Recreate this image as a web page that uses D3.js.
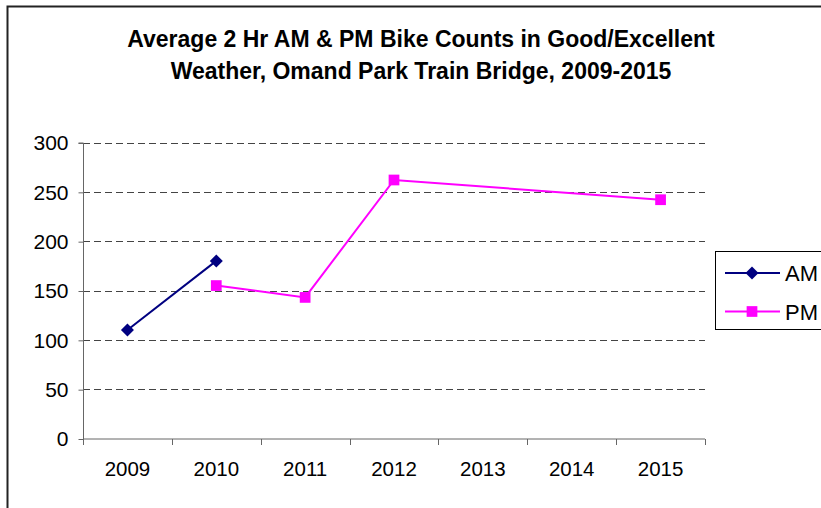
<!DOCTYPE html>
<html><head><meta charset="utf-8">
<script src="https://cdn.jsdelivr.net/npm/d3@7"></script>
<style>body{margin:0;background:#fff}svg{display:block;font-family:"Liberation Sans",Arial,sans-serif}</style>
</head><body><svg id="c" width="821" height="508"></svg>
<script>
const categories = ["2009","2010","2011","2012","2013","2014","2015"];
const amValues = [110, 180, null, null, null, null, null];
const pmValues = [null, 155, 143, 262, null, null, 242];
const yTicks = [0, 50, 100, 150, 200, 250, 300];
const titleLines = ["Average 2 Hr AM & PM Bike Counts in Good/Excellent", "Weather, Omand Park Train Bridge, 2009-2015"];
const seriesNames = ["AM", "PM"];

const svg = d3.select("#c");
const m = {left: 83, right: 705, top: 142.5, bottom: 438.5};

// outer border
svg.append("rect").attr("x", 7.5).attr("y", 6.5).attr("width", 830).attr("height", 520)
  .attr("fill", "none").attr("stroke", "#222").attr("stroke-width", 2);

// title
const t = svg.append("text").attr("text-anchor", "middle").attr("font-weight", "bold")
  .attr("font-size", 23).attr("fill", "#000");
titleLines.forEach((l, i) => t.append("tspan").attr("x", 421).attr("y", 47 + i * 32).text(l));

const x = d3.scaleBand().domain(categories).range([m.left, m.right]);
const y = d3.scaleLinear().domain([0, 300]).range([m.bottom, m.top]);

// grid
svg.append("g").selectAll("line").data(yTicks.filter(v => v > 0)).join("line")
  .attr("x1", m.left).attr("x2", m.right)
  .attr("y1", d => Math.round(y(d)) + 0.5).attr("y2", d => Math.round(y(d)) + 0.5)
  .attr("stroke", "#444").attr("stroke-dasharray", "7,4");

// y axis
const ya = svg.append("g").attr("transform", `translate(${m.left + 0.5},0.5)`)
  .call(d3.axisLeft(y).tickValues(yTicks).tickSize(5).tickPadding(10).tickFormat(d3.format("d")));
ya.select(".domain").attr("stroke", "#666").attr("d", `M-5,${y(300)}H0V${y(0)}`);
ya.selectAll(".tick line").attr("stroke", "#666");
ya.selectAll(".tick text").attr("font-size", 21).attr("fill", "#000")
  .attr("font-family", "Liberation Sans, Arial, sans-serif");

// x axis
const xa = svg.append("g").attr("transform", `translate(0,${m.bottom + 0.5})`)
  .call(d3.axisBottom(x).tickSize(0).tickPadding(22));
xa.select(".domain").attr("stroke", "#666").attr("d", `M${m.left},0H${m.right}`);
xa.selectAll(".tick text").attr("font-size", 20.5).attr("fill", "#000")
  .attr("font-family", "Liberation Sans, Arial, sans-serif");
const bounds = categories.map(c => x(c)).concat([m.right]);
xa.append("g").selectAll("line").data(bounds).join("line")
  .attr("x1", d => Math.round(d) + 0.5).attr("x2", d => Math.round(d) + 0.5)
  .attr("y1", 0).attr("y2", 6).attr("stroke", "#666");

const cx = c => x(c) + x.bandwidth() / 2;
const markerPath = (shape) => shape === "diamond"
  ? "M0,-6.5L6.5,0L0,6.5L-6.5,0Z"
  : d3.symbol().type(d3.symbolSquare).size(115)();
function drawSeries(vals, color, shape) {
  const pts = categories.map((c, i) => ({c, v: vals[i]})).filter(d => d.v != null);
  svg.append("path").datum(pts)
    .attr("d", d3.line().x(d => cx(d.c)).y(d => y(d.v)))
    .attr("fill", "none").attr("stroke", color).attr("stroke-width", 2);
  svg.append("g").selectAll("path").data(pts).join("path")
    .attr("transform", d => `translate(${cx(d.c)},${y(d.v)})`)
    .attr("d", markerPath(shape)).attr("fill", color);
}
drawSeries(amValues, "#000080", "diamond");
drawSeries(pmValues, "#FF00FF", "square");

// legend
const lg = svg.append("g");
lg.append("rect").attr("x", 715.5).attr("y", 251.5).attr("width", 120).attr("height", 78)
  .attr("fill", "#fff").attr("stroke", "#000");
const colors = ["#000080", "#FF00FF"];
const shapes = ["diamond", "square"];
seriesNames.forEach((n, i) => {
  const yy = 273 + i * 38.5;
  lg.append("line").attr("x1", 725).attr("x2", 780).attr("y1", yy).attr("y2", yy)
    .attr("stroke", colors[i]).attr("stroke-width", 2);
  lg.append("path").attr("transform", `translate(752,${yy})`)
    .attr("d", markerPath(shapes[i])).attr("fill", colors[i]);
  lg.append("text").attr("x", 785).attr("y", yy + 8).attr("font-size", 22).text(n);
});
</script></body></html>
